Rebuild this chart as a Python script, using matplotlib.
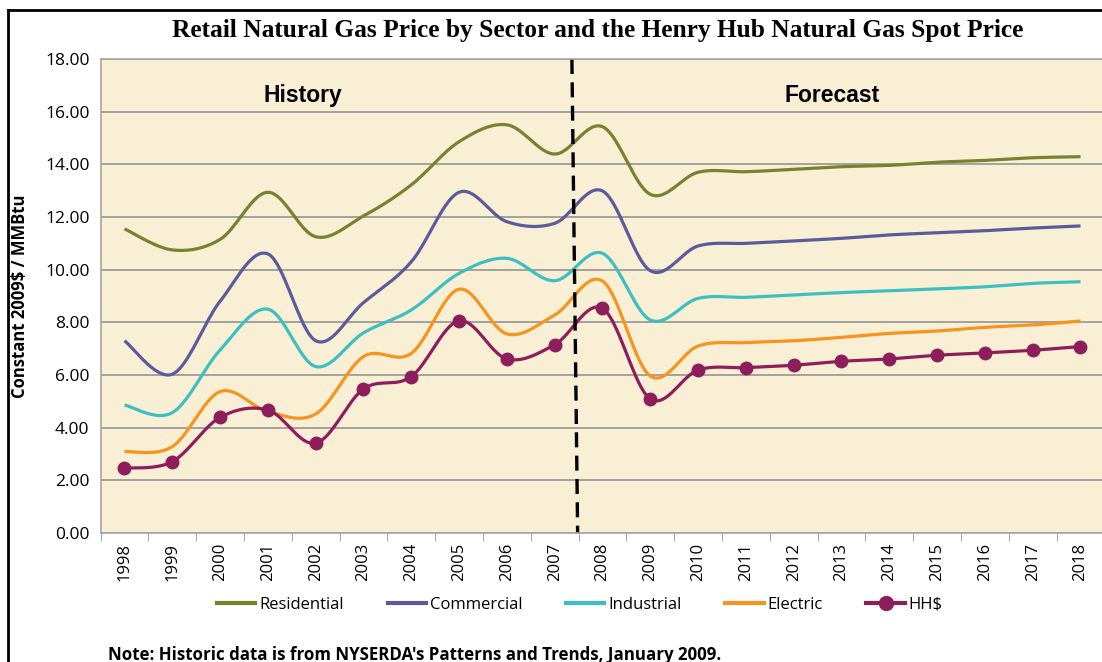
import numpy as np
import matplotlib
matplotlib.use('Agg')
import matplotlib.pyplot as plt
from matplotlib.lines import Line2D
from matplotlib.ticker import FixedLocator

years = [str(y) for y in range(1998, 2019)]

residential = [11.55, 10.75, 11.15, 12.94, 11.25, 12.04, 13.22, 14.86, 15.50, 14.39, 15.43,
               12.86, 13.70, 13.72, 13.81, 13.91, 13.96, 14.08, 14.15, 14.25, 14.29]
commercial = [7.30, 6.03, 8.80, 10.60, 7.30, 8.75, 10.30, 12.94, 11.82, 11.76, 12.99,
              9.96, 10.90, 11.00, 11.09, 11.19, 11.32, 11.40, 11.48, 11.58, 11.66]
industrial = [4.86, 4.57, 6.95, 8.50, 6.32, 7.60, 8.47, 9.86, 10.43, 9.58, 10.62,
              8.09, 8.91, 8.95, 9.04, 9.13, 9.20, 9.27, 9.35, 9.48, 9.54]
electric = [3.09, 3.28, 5.37, 4.61, 4.52, 6.70, 6.82, 9.26, 7.56, 8.28, 9.57,
            5.96, 7.10, 7.23, 7.30, 7.43, 7.58, 7.67, 7.81, 7.90, 8.05]
hh = [2.46, 2.71, 4.39, 4.67, 3.41, 5.47, 5.94, 8.06, 6.61, 7.15, 8.53,
      5.09, 6.19, 6.28, 6.37, 6.52, 6.61, 6.75, 6.84, 6.94, 7.08]

series = [
    ('Residential', residential, '#78812F'),
    ('Commercial', commercial, '#5B5A9A'),
    ('Industrial', industrial, '#3DBFC1'),
    ('Electric', electric, '#F7941E'),
]
hh_color = '#8E1D5B'


def smooth(x, y, n=20):
    # Catmull-Rom spline, like Excel's smoothed line
    p = np.column_stack([x, y]).astype(float)
    p = np.vstack([p[0], p, p[-1]])
    out = []
    t = np.linspace(0, 1, n, endpoint=False)[:, None]
    for i in range(1, len(p) - 2):
        p0, p1, p2, p3 = p[i - 1], p[i], p[i + 1], p[i + 2]
        c = 0.5 * ((2 * p1) + (-p0 + p2) * t + (2 * p0 - 5 * p1 + 4 * p2 - p3) * t ** 2
                   + (-p0 + 3 * p1 - 3 * p2 + p3) * t ** 3)
        out.append(c)
    out.append(p[-2][None, :])
    c = np.vstack(out)
    return c[:, 0], c[:, 1]


W, H = 1102, 662
fig = plt.figure(figsize=(W / 100, H / 100), dpi=100)
ax = fig.add_axes([100.6 / W, (H - 533) / H, 1003.8 / W, 474 / H])
ax.set_facecolor('#F8EFD5')

x = np.arange(len(years))
for name, vals, col in series:
    sx, sy = smooth(x, vals)
    ax.plot(sx, sy, color=col, lw=2.3, solid_capstyle='butt')
sx, sy = smooth(x, hh)
ax.plot(sx, sy, color=hh_color, lw=2.3)
ax.plot(x, hh, 'o', color=hh_color, ms=9)

# history / forecast divider
ax.plot([9.36, 9.48], [18, 0], color='black', lw=2.4, dashes=(4.5, 2.5))
ax.text(3.73, 16.6, 'History', ha='center', va='center', fontsize=16.5,
        fontweight='bold', family='Liberation Sans')
ax.text(14.8, 16.6, 'Forecast', ha='center', va='center', fontsize=16.5,
        fontweight='bold', family='Liberation Sans')

ax.set_xlim(-0.5, 20.5)
ax.set_ylim(0, 18)
ax.set_yticks(np.arange(0, 18.1, 2))
ax.set_yticklabels(['%.2f' % v for v in np.arange(0, 18.1, 2)], family='Open Sans', fontsize=12.5)
ax.set_xticks(x)
ax.set_xticklabels(years, rotation=90, family='Open Sans', fontsize=12)
ax.xaxis.set_minor_locator(FixedLocator(np.arange(-0.5, 21, 1)))
ax.tick_params(axis='x', which='major', length=0, pad=7)
ax.tick_params(axis='x', which='minor', length=6, color='#999999', direction='out')
ax.tick_params(axis='y', length=0, pad=8)
ax.grid(axis='y', color='#8C8C8C', lw=1.1)
ax.set_axisbelow(True)
for s in ['left', 'bottom', 'top']:
    ax.spines[s].set_color('#A6A6A6')
    ax.spines[s].set_linewidth(1.2)
ax.spines['right'].set_visible(False)

ax.set_ylabel('Constant 2009$ / MMBtu', family='Open Sans', fontweight='bold', fontsize=12)
ax.yaxis.set_label_coords(-72 / 1003.8, 0.5)

fig.text(598 / W, 1 - 31 / H, 'Retail Natural Gas Price by Sector and the Henry Hub Natural Gas Spot Price',
         ha='center', va='center', family='Liberation Serif', fontweight='bold', fontsize=18.3)

handles = [Line2D([], [], color=c, lw=3) for _, _, c in series]
handles.append(Line2D([], [], color=hh_color, lw=3, marker='o', ms=10))
labels = [n for n, _, _ in series] + ['HH$']
fig.legend(handles, labels, loc='center', bbox_to_anchor=(580 / W, 1 - 605 / H), ncol=5,
           frameon=False, prop={'family': 'Open Sans', 'size': 12}, handlelength=2.3,
           handletextpad=0.25, columnspacing=2.6)

fig.text(108 / W, 1 - 655 / H, "Note: Historic data is from NYSERDA's Patterns and Trends, January 2009.",
         ha='left', va='center', family='Open Sans', fontweight='bold', fontsize=12.2)

# outer frame
fig.add_artist(Line2D([8 / W, 8 / W], [0, 1 - 10 / H], color='black', lw=2))
fig.add_artist(Line2D([8 / W, 1], [1 - 10 / H, 1 - 10 / H], color='black', lw=2))

fig.savefig('out.png', dpi=100)
